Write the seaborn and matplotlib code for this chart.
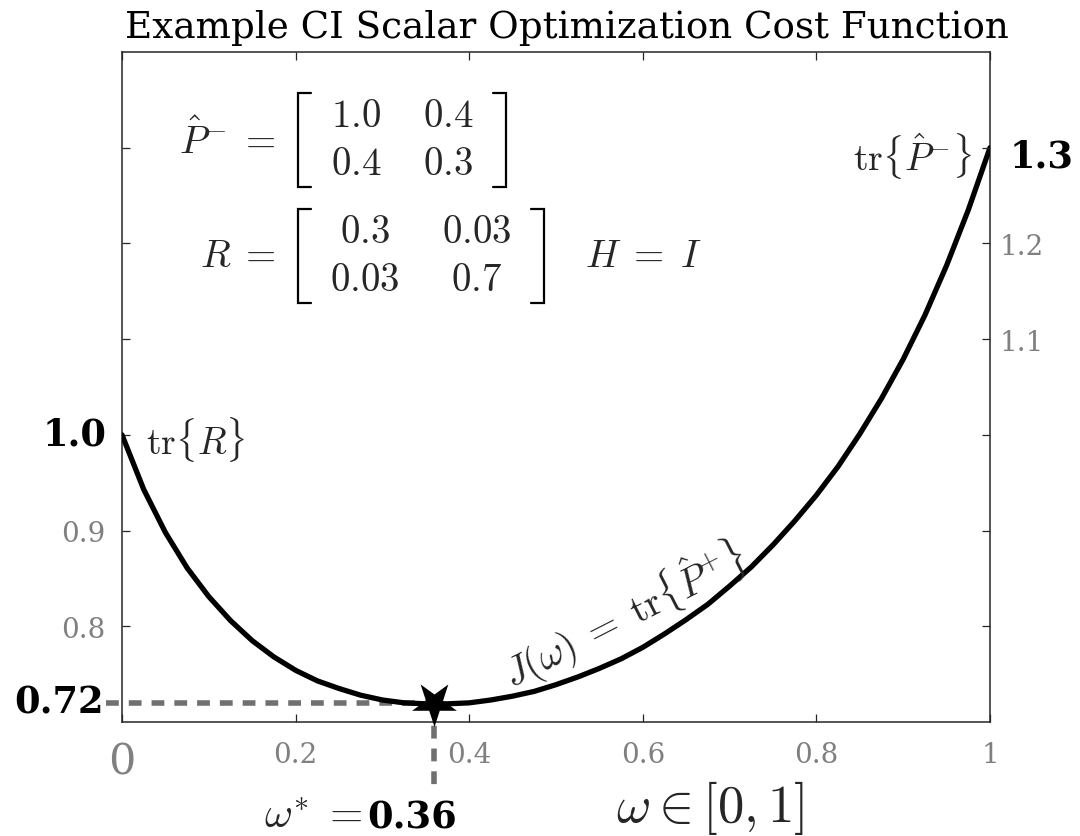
import matplotlib
matplotlib.use("Agg")
import matplotlib.pyplot as plt
import pandas as pd
import seaborn as sns
from matplotlib.markers import MarkerStyle
from matplotlib.transforms import Affine2D, blended_transform_factory, offset_copy

# Cost J(omega) = tr{P+} sampled along the weight omega
OMEGA = [0.000, 0.025, 0.050, 0.075, 0.100, 0.125, 0.150, 0.175, 0.200, 0.225,
         0.250, 0.275, 0.300, 0.325, 0.350, 0.375, 0.400, 0.425, 0.450, 0.475,
         0.500, 0.525, 0.550, 0.575, 0.600, 0.625, 0.650, 0.675, 0.700, 0.725,
         0.750, 0.775, 0.800, 0.825, 0.850, 0.875, 0.900, 0.925, 0.950, 0.975,
         1.000]
COST = [1.000, 0.943, 0.898, 0.861, 0.831, 0.806, 0.785, 0.768, 0.754, 0.743,
        0.735, 0.728, 0.723, 0.720, 0.719, 0.719, 0.720, 0.723, 0.727, 0.732,
        0.739, 0.747, 0.756, 0.766, 0.778, 0.792, 0.807, 0.823, 0.842, 0.862,
        0.885, 0.910, 0.937, 0.967, 1.001, 1.038, 1.079, 1.125, 1.177, 1.235,
        1.300]

OMEGA_STAR = 0.36
J_STAR = 0.72
TR_R = 1.0
TR_P = 1.3

X_TICKS = [0.0, 0.2, 0.4, 0.6, 0.8, 1.0]
X_TICK_LABELS = ["0", "0.2", "0.4", "0.6", "0.8", "1"]
Y_TICKS = [0.8, 0.9, 1.0, 1.1, 1.2, 1.3]
LEFT_TICK_LABELS = ["0.8", "0.9", "", "", "", ""]
RIGHT_TICK_LABELS = ["", "", "", "1.1", "1.2", ""]

P_MINUS = [["1.0", "0.4"], ["0.4", "0.3"]]
R_MAT = [["0.3", "0.03"], ["0.03", "0.7"]]

sns.set_theme(style="white")
plt.rcParams["font.family"] = ["DejaVu Serif"]
plt.rcParams["mathtext.fontset"] = "cm"

AX_COLOR = "#262626"
TICK_GRAY = "#808080"
DASH_GRAY = "#707070"
BOLD = dict(family="DejaVu Serif", fontweight="bold", fontsize=26.5,
            color="black")

W, H = 1080, 837
L, R, T, B = 122, 990, 53, 723

fig = plt.figure(figsize=(W / 100, H / 100), dpi=100)
ax = fig.add_axes([L / W, 1 - B / H, (R - L) / W, (B - T) / H])

df = pd.DataFrame({"omega": OMEGA, "J": COST})
sns.lineplot(data=df, x="omega", y="J", ax=ax, color="black", linewidth=3.8,
             sort=False, zorder=3)

ax.set_xlim(0, 1)
ax.set_ylim(0.70, 1.40)
ax.set_xlabel("")
ax.set_ylabel("")

for s in ax.spines.values():
    s.set_visible(True)
    s.set_color(AX_COLOR)
    s.set_linewidth(1.1)

ax.set_xticks(X_TICKS, X_TICK_LABELS)
ax.set_yticks(Y_TICKS, LEFT_TICK_LABELS)
ax.tick_params(axis="x", direction="in", top=True, bottom=True, length=6,
               width=0.9, color=AX_COLOR, labelcolor=TICK_GRAY, labelsize=20,
               pad=13.5)
ax.tick_params(axis="y", direction="in", left=True, right=False, length=6,
               width=0.9, color=AX_COLOR, labelcolor=TICK_GRAY, labelsize=20,
               pad=12)
ax.get_xticklabels()[0].set_fontsize(31)

ax2 = ax.twinx()
ax2.set_ylim(ax.get_ylim())
ax2.set_yticks(Y_TICKS, RIGHT_TICK_LABELS)
ax2.tick_params(axis="y", direction="in", left=False, right=True, length=6,
                width=0.9, color=AX_COLOR, labelcolor=TICK_GRAY, labelsize=20,
                pad=7)
for s in ax2.spines.values():
    s.set_visible(False)
ax2.grid(False)

# optimum: dashed guides and star
ax.plot([-0.018, OMEGA_STAR], [J_STAR, J_STAR], color=DASH_GRAY, linewidth=4,
        linestyle=(0, (2.3, 1.8)), dash_capstyle="butt", clip_on=False, zorder=2)
ax.plot([OMEGA_STAR, OMEGA_STAR], [J_STAR, 0.628], color=DASH_GRAY, linewidth=4,
        linestyle=(0, (2.3, 1.8)), dash_capstyle="butt", clip_on=False, zorder=2)
star = MarkerStyle("*", transform=Affine2D().rotate_deg(180))
sns.scatterplot(x=[OMEGA_STAR], y=[J_STAR], ax=ax, marker=star, s=1150,
                color="black", edgecolor="black", linewidth=0, zorder=5,
                clip_on=False, legend=False)

# bold value labels on the axes
left_tr = blended_transform_factory(ax.transAxes, ax.transData)
ax.text(-15 / (R - L), TR_R, f"{TR_R:.1f}", transform=left_tr,
        ha="right", va="center", **BOLD)
ax.text(-18 / (R - L), J_STAR, f"{J_STAR:.2f}", transform=left_tr,
        ha="right", va="center", **BOLD)
ax.text(1 + 20 / (R - L), TR_P, f"{TR_P:.1f}",
        transform=offset_copy(left_tr, fig=fig, y=-6.5, units="points"),
        ha="left", va="center", **BOLD)

ax.text(0.0276, 0.995, r"$\mathrm{tr}\{R\}$", ha="left", va="center",
        fontsize=27)
ax.text(0.980, 1.291, r"$\mathrm{tr}\{\hat{P}^{-}\}$", ha="right",
        va="center", fontsize=27)
ax.text(0.578, 0.813, r"$J(\omega) \;=\; \mathrm{tr}\{\hat{P}^{+}\}$",
        ha="center", va="center", rotation=27, rotation_mode="anchor",
        fontsize=28.5)

bottom_tr = blended_transform_factory(ax.transData, ax.transData)
ax.text((362 - L) / (R - L), 0.590, r"$\omega^{*}\;=$", ha="right",
        va="baseline", fontsize=31)
ax.text((367 - L) / (R - L), 0.590, f"{OMEGA_STAR:.2f}", ha="left",
        va="baseline", **BOLD)
ax.text(0.678, 0.5966, r"$\omega \in [0, 1]$", ha="center", va="baseline",
        fontsize=38)


def px(x, y):
    """Pixel position (from the figure's top-left) in axes fraction."""
    return (x - L) / (R - L), (B - y) / (B - T)


def bracket(x_stroke, x_tip, y_top, y_bot):
    xs, ys = zip(px(x_tip, y_top), px(x_stroke, y_top),
                 px(x_stroke, y_bot), px(x_tip, y_bot))
    ax.plot(xs, ys, transform=ax.transAxes, color="black", linewidth=1.6,
            solid_joinstyle="miter", clip_on=False)


def matrix(name, entries, x_eq, y_mid, x_left, x_right, col_x, row_dy, half_h):
    ax.text(*px(x_eq, y_mid), name, transform=ax.transAxes, ha="right",
            va="center", fontsize=28)
    bracket(x_left, x_left + 13, y_mid - half_h, y_mid + half_h)
    bracket(x_right, x_right - 13, y_mid - half_h, y_mid + half_h)
    for i, row in enumerate(entries):
        for j, val in enumerate(row):
            ax.text(*px(col_x[j], y_mid + (i - 0.5) * row_dy), f"${val}$",
                    transform=ax.transAxes, ha="center", va="center",
                    fontsize=28)


matrix(r"$\hat{P}^{-}\;=$", P_MINUS, 276, 141, 298, 506, [356, 448], 48, 47)
matrix(r"$R\;=$", R_MAT, 276, 257, 298, 544, [365, 477], 48, 47)
ax.text(*px(585, 257), r"$H\;=\;I$", transform=ax.transAxes, ha="left",
        va="center", fontsize=28)

ax.set_title("Example CI Scalar Optimization Cost Function", fontsize=26.8,
             color="black", pad=10.5, x=0.5127)

fig.savefig("out.png", dpi=100)
